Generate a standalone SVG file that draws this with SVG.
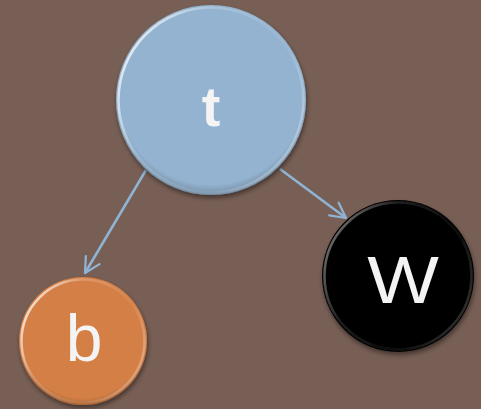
<svg xmlns="http://www.w3.org/2000/svg" width="481" height="409" viewBox="0 0 481 409">
  <style>
    .label { font-family: "Liberation Sans", "DejaVu Sans", sans-serif; fill: #f4f4f4; text-anchor: middle; dominant-baseline: central; }
    .edge { fill: none; stroke: #8fb4d6; stroke-width: 2.5; }
    .rim { fill: none; stroke: url(#rimLight); stroke-width: 2.5; }
    .shade { fill: url(#edgeShade); }
  </style>
  <defs>
    <marker id="chevron" viewBox="0 0 12 12" refX="10.5" refY="6" markerWidth="19" markerHeight="19" markerUnits="userSpaceOnUse" orient="auto">
      <path d="M1,1 L10.5,6 L1,11" fill="none" stroke="#8fb4d6" stroke-width="1.4" stroke-linecap="round" stroke-linejoin="round"/>
    </marker>
    <filter id="drop" x="-20%" y="-20%" width="140%" height="140%">
      <feGaussianBlur in="SourceAlpha" stdDeviation="2.5"/>
      <feOffset dx="1" dy="3" result="b"/>
      <feComponentTransfer><feFuncA type="linear" slope="0.45"/></feComponentTransfer>
      <feMerge><feMergeNode/><feMergeNode in="SourceGraphic"/></feMerge>
    </filter>
    <linearGradient id="rimLight" x1="0" y1="0.25" x2="1" y2="0.75">
      <stop offset="0" stop-color="#ffffff" stop-opacity="0.8"/>
      <stop offset="0.3" stop-color="#ffffff" stop-opacity="0.2"/>
      <stop offset="0.7" stop-color="#ffffff" stop-opacity="0.05"/>
      <stop offset="1" stop-color="#ffffff" stop-opacity="0.35"/>
    </linearGradient>
    <radialGradient id="edgeShade" cx="0.5" cy="0.45" r="0.55">
      <stop offset="0.9" stop-color="#000" stop-opacity="0"/>
      <stop offset="1" stop-color="#000" stop-opacity="0.2"/>
    </radialGradient>
  </defs>

  <rect width="481" height="409" fill="#785f55"/>

  <g id="connectors">
    <line class="edge" x1="146" y1="170" x2="85" y2="273" marker-end="url(#chevron)"/>
    <line class="edge" x1="280" y1="169" x2="346" y2="218" marker-end="url(#chevron)"/>
  </g>

  <g id="node-t" filter="url(#drop)">
    <circle cx="211" cy="100" r="95" fill="#93b3d0"/>
    <circle class="shade" cx="211" cy="100" r="95"/>
    <circle class="rim" cx="211" cy="100" r="92.5"/>
    <text class="label" x="211" y="106" font-size="56" font-weight="bold">t</text>
  </g>

  <g id="node-b" filter="url(#drop)">
    <circle cx="83" cy="341" r="64" fill="#d47f45"/>
    <circle class="shade" cx="83" cy="341" r="64"/>
    <circle class="rim" cx="83" cy="341" r="61.5"/>
    <text class="label" x="84" y="338" font-size="66">b</text>
  </g>

  <g id="node-w" filter="url(#drop)">
    <circle cx="398" cy="276" r="76" fill="#030303"/>
    <circle class="rim" cx="398" cy="276" r="73.5" opacity="0.55"/>
    <text class="label" transform="translate(403 280) scale(1.15 1)" x="0" y="0" font-size="66">W</text>
  </g>
</svg>
